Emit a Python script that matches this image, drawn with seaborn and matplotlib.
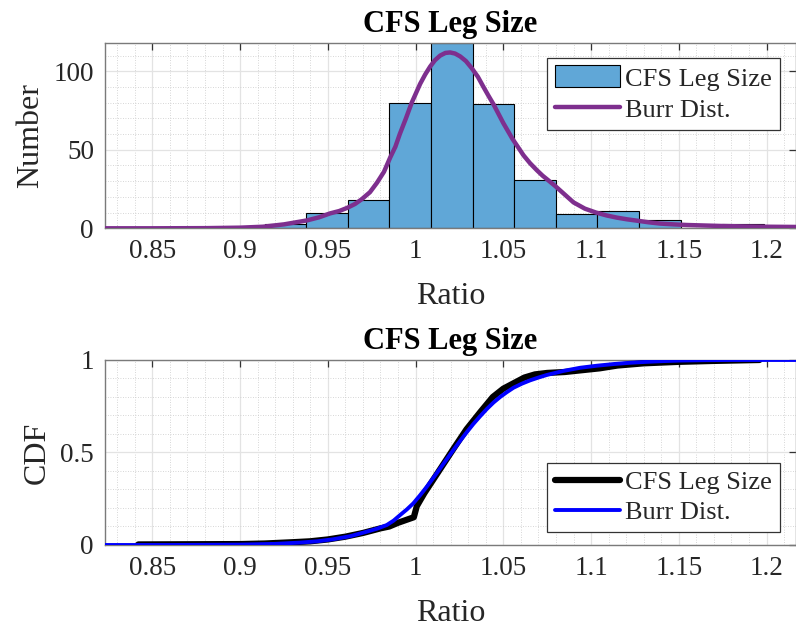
import numpy as np
import pandas as pd
import matplotlib
matplotlib.use("Agg")
import matplotlib.pyplot as plt
import seaborn as sns
from matplotlib.ticker import MultipleLocator
from matplotlib.patches import Patch
from matplotlib.lines import Line2D

# ---------------- data ----------------
title_text = "CFS Leg Size"
hist_label = "CFS Leg Size"
fit_label = "Burr Dist."

bin_edges = [0.9140, 0.9377, 0.9614, 0.9851, 1.0088, 1.0325, 1.0562,
             1.0799, 1.1036, 1.1273, 1.1510, 1.1747, 1.1984]
bin_counts = [3, 10, 18, 80, 118, 79, 31, 9, 11, 5, 0, 3]

pdf_x = [0.823, 0.85, 0.88, 0.90, 0.913, 0.925, 0.938, 0.945, 0.9513, 0.9565,
         0.961, 0.9655, 0.9693, 0.974, 0.978, 0.982, 0.9855, 0.9885, 0.991,
         0.9945, 0.9978, 1.0026, 1.0055, 1.0083, 1.011, 1.014, 1.017, 1.0197,
         1.0225, 1.0254, 1.0287, 1.032, 1.0355, 1.0387, 1.0415, 1.0444, 1.0472,
         1.05, 1.0526, 1.0552, 1.0585, 1.0615, 1.0652, 1.0691, 1.0724, 1.0757,
         1.0795, 1.083, 1.0865, 1.09, 1.0965, 1.1029, 1.1088, 1.1147, 1.1206,
         1.1265, 1.1330, 1.1394, 1.1470, 1.1546, 1.1640, 1.1736, 1.1870,
         1.2002, 1.217]
pdf_y = [0, 0, 0.1, 0.4, 1.0, 2.5, 5.0, 7.0, 9.5, 11,
         13, 15.5, 18.5, 23, 29, 36, 45, 52, 60,
         70, 80, 92, 98, 103, 107, 110, 111.7, 112,
         111.3, 109.5, 106.5, 102, 96.5, 90, 84.5, 79, 73,
         67, 62, 57, 51.5, 46.5, 41.5, 37, 33.5, 30.5,
         27, 23.5, 20, 16.5, 12.5, 10, 8.2, 6.8, 5.7,
         4.8, 3.8, 3.0, 2.5, 2.1, 1.8, 1.5, 1.2,
         1.0, 0.85]

cdf_emp_x = [0.842, 0.90, 0.914, 0.93, 0.94, 0.95, 0.96, 0.97, 0.98, 0.985,
             0.99, 0.996, 0.999, 1.0007, 1.005, 1.014, 1.0216, 1.029, 1.037,
             1.044, 1.05, 1.056, 1.062, 1.068, 1.075, 1.085, 1.095, 1.105,
             1.115, 1.13, 1.15, 1.17, 1.196]
cdf_emp_y = [0.003, 0.005, 0.008, 0.015, 0.02, 0.03, 0.045, 0.065, 0.09, 0.10,
             0.12, 0.14, 0.15, 0.21, 0.28, 0.41, 0.52, 0.625, 0.72,
             0.80, 0.845, 0.875, 0.905, 0.922, 0.93, 0.935, 0.945, 0.955,
             0.97, 0.982, 0.99, 0.995, 1.0]

cdf_fit_x = [0.823, 0.86, 0.90, 0.92, 0.9341, 0.944, 0.9531, 0.963, 0.9722,
             0.978, 0.9836, 0.9875, 0.9912, 0.995, 0.9987, 1.0025, 1.0064,
             1.0102, 1.014, 1.0178, 1.0216, 1.0254, 1.0292, 1.033, 1.0368,
             1.0406, 1.0444, 1.0482, 1.052, 1.0558, 1.0606, 1.0653, 1.07,
             1.0748, 1.0843, 1.0938, 1.1033, 1.1128, 1.1223, 1.1318, 1.1413,
             1.1508, 1.165, 1.18, 1.217]
cdf_fit_y = [0.0, 0.0, 0.002, 0.006, 0.013, 0.02, 0.031, 0.048, 0.072,
             0.088, 0.108, 0.132, 0.162, 0.192, 0.225, 0.268, 0.315,
             0.364, 0.414, 0.464, 0.514, 0.563, 0.61, 0.655, 0.696,
             0.735, 0.77, 0.80, 0.826, 0.85, 0.872, 0.89, 0.905,
             0.919, 0.941, 0.958, 0.969, 0.978, 0.985, 0.99, 0.994,
             0.997, 0.999, 1.0, 1.0]

x_ticks = [0.85, 0.9, 0.95, 1.0, 1.05, 1.1, 1.15, 1.2]
x_tick_labels = ["0.85", "0.9", "0.95", "1", "1.05", "1.1", "1.15", "1.2"]
y1_ticks = [0, 50, 100]
y1_tick_labels = ["0", "50", "100"]
y2_ticks = [0, 0.5, 1.0]
y2_tick_labels = ["0", "0.5", "1"]

# ---------------- style ----------------
sns.set_style("white")
plt.rcParams["font.family"] = ["Liberation Serif", "DejaVu Serif"]

bar_color = "#60A7D7"
purple = "#7E2F8E"
frame_col = "#7a7a7a"
text_col = "#262626"

fig = plt.figure(figsize=(7.96, 6.31), dpi=100)
ax1 = fig.add_axes([0.1319, 0.6382, 0.8681, 0.2941])
ax2 = fig.add_axes([0.1319, 0.1363, 0.8681, 0.2932])

XLIM = (0.823, 1.2168)

def style_axes(ax):
    ax.set_xlim(*XLIM)
    ax.xaxis.set_minor_locator(MultipleLocator(0.01))
    ax.grid(True, which="major", color="#e3e3e3", linewidth=0.9, linestyle="-")
    ax.grid(True, which="minor", color="#c9c9c9", linewidth=0.6, linestyle=(0, (1, 2)))
    ax.set_axisbelow(True)
    for s in ax.spines.values():
        s.set_visible(True)
        s.set_color(frame_col)
        s.set_linewidth(1.0)
    ax.tick_params(which="major", direction="in", length=5, width=0.9,
                   top=True, right=True, color="#333333",
                   labelsize=19.5, labelcolor=text_col, pad=8)
    ax.tick_params(which="minor", length=0, top=True, right=True)
    ax.set_xticks(x_ticks)
    ax.set_xticklabels(x_tick_labels)

# ---------------- top: histogram + Burr PDF ----------------
centers = [(a + b) / 2 for a, b in zip(bin_edges[:-1], bin_edges[1:])]
hist_df = pd.DataFrame({"ratio": centers, "count": bin_counts})
sns.histplot(data=hist_df, x="ratio", weights="count", bins=bin_edges,
             color=bar_color, alpha=1.0, edgecolor="black", linewidth=0.8,
             ax=ax1, zorder=2)
pdf_df = pd.DataFrame({"x": pdf_x, "y": pdf_y})
sns.lineplot(data=pdf_df, x="x", y="y", sort=False, estimator=None,
             color=purple, linewidth=3.2, ax=ax1, zorder=3)
style_axes(ax1)
ax1.set_ylim(0, 118.2)
ax1.yaxis.set_minor_locator(MultipleLocator(10))
ax1.set_yticks(y1_ticks)
ax1.set_yticklabels(y1_tick_labels)
ax1.set_xlabel("Ratio", fontsize=23, color=text_col, labelpad=13)
ax1.set_ylabel("Number", fontsize=23, color=text_col, labelpad=6)
ax1.set_title(title_text, fontsize=22, fontweight="bold", color="black", pad=8)
h1 = [Patch(facecolor=bar_color, edgecolor="black", linewidth=0.8),
      Line2D([0], [0], color=purple, linewidth=3.2)]
leg1 = ax1.legend(h1, [hist_label, fit_label], loc="upper right",
                  bbox_to_anchor=(0.977, 0.92), fontsize=19, frameon=True,
                  fancybox=False, edgecolor="#333333", framealpha=1,
                  handlelength=2.45, handleheight=0.9, handletextpad=0.2,
                  labelspacing=0.25, borderpad=0.3, borderaxespad=0.0)
leg1.get_frame().set_linewidth(0.9)

# ---------------- bottom: CDFs ----------------
emp_df = pd.DataFrame({"x": cdf_emp_x, "y": cdf_emp_y})
fit_df = pd.DataFrame({"x": cdf_fit_x, "y": cdf_fit_y})
sns.lineplot(data=emp_df, x="x", y="y", sort=False, estimator=None,
             color="black", linewidth=4.5, ax=ax2, zorder=3)
sns.lineplot(data=fit_df, x="x", y="y", sort=False, estimator=None,
             color="#0000FF", linewidth=2.8, ax=ax2, zorder=4)
style_axes(ax2)
ax2.set_ylim(0, 1)
ax2.yaxis.set_minor_locator(MultipleLocator(0.1))
ax2.set_yticks(y2_ticks)
ax2.set_yticklabels(y2_tick_labels)
ax2.set_xlabel("Ratio", fontsize=23, color=text_col, labelpad=13)
ax2.set_ylabel("CDF", fontsize=23, color=text_col, labelpad=6)
ax2.set_title(title_text, fontsize=22, fontweight="bold", color="black", pad=8)
h2 = [Line2D([0], [0], color="black", linewidth=4.5),
      Line2D([0], [0], color="#0000FF", linewidth=2.8)]
leg2 = ax2.legend(h2, [hist_label, fit_label], loc="lower right",
                  bbox_to_anchor=(0.977, 0.07), fontsize=19, frameon=True,
                  fancybox=False, edgecolor="#333333", framealpha=1,
                  handlelength=2.45, handletextpad=0.2,
                  labelspacing=0.25, borderpad=0.3, borderaxespad=0.0)
leg2.get_frame().set_linewidth(0.9)

fig.savefig("out.png", dpi=100)
